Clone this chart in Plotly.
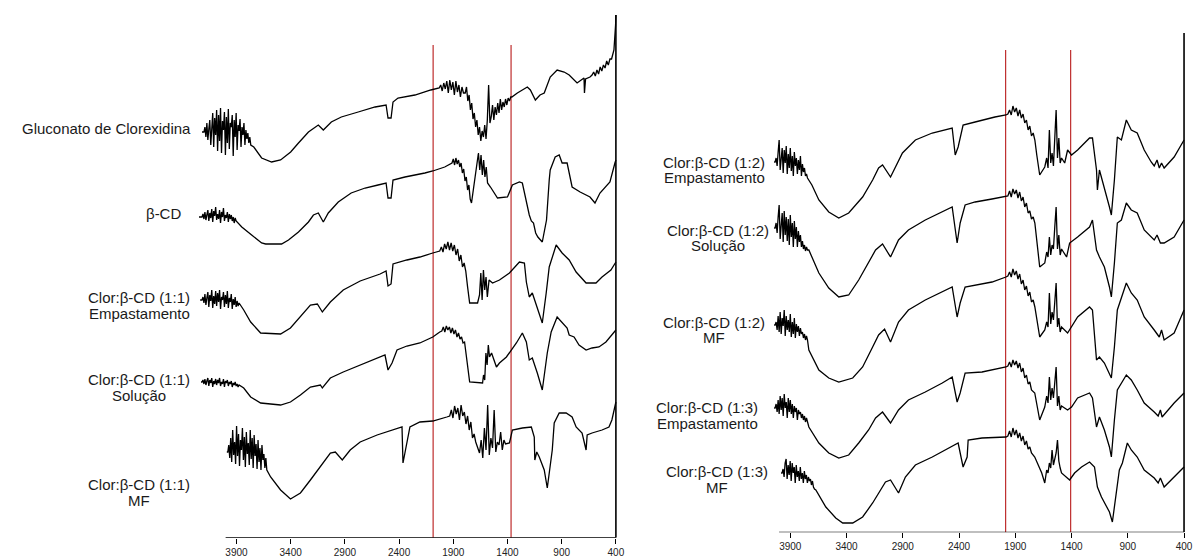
import plotly.graph_objects as go

# ---------------------------------------------------------------------------
# FTIR spectra (wavenumber in cm-1, transmittance in arbitrary units).
# Each spectrum: smooth points (wn, T) plus noisy windows recorded at a fixed
# wavenumber step: (start_wn, step, [T values]).
# ---------------------------------------------------------------------------

# ---- left panel -----------------------------------------------------------
gluconato_pts = [(4218, 33), (3740, 18), (3668, 7), (3576, 3), (3493, 5), (3400, 13), (3328, 22),
                 (3236, 33), (3145, 40), (3099, 35), (3025, 43), (2933, 48), (2777, 53), (2621, 58),
                 (2520, 60), (2502, 47), (2474, 47), (2456, 63), (2410, 67), (2254, 70), (2107, 75),
                 (2043, 77), (1360, 68), (1309, 72), (1217, 78), (1189, 75), (1143, 65), (1100, 70),
                 (1061, 72), (1006, 88), (942, 95), (877, 93), (831, 90), (786, 85), (758, 82),
                 (720, 85), (694, 87), (690, 72), (680, 86), (639, 88), (440, 106), (418, 115),
                 (408, 128), (403, 140), (400, 150)]
gluconato_noise = [(4200, -9, [33, 38, 28, 42, 25, 36, 45, 20, 40, 52, 18, 47, 30, 55, 14, 50, 24, 57, 12, 44,
                               35, 53, 10, 48, 22, 56, 16, 42, 38, 50, 9, 45, 28, 52, 15, 40, 34, 46, 18, 38,
                               30, 42, 20, 35, 26, 32, 22, 28, 20]),
                   (2030, -14, [77, 80, 74, 82, 76, 84, 72, 85, 75, 83, 70, 84, 73, 80, 68, 78, 72]),
                   (1790, -12, [72, 78, 64, 70, 55, 62, 46, 52, 38, 45, 30, 38, 24, 34, 28, 40, 26, 45, 80, 42]),
                   (1550, -12, [48, 60, 45, 58, 50, 62, 52, 66, 55, 63, 58, 66, 60, 67, 64, 68]),
                   (620, -15, [90, 93, 89, 95, 91, 98, 94, 100, 97, 104, 100, 106])]

bcd_pts = [(4246, 28), (3851, 18), (3760, 10), (3668, 2), (3631, 1), (3484, 1), (3420, 5), (3328, 13),
           (3236, 23), (3190, 30), (3145, 32), (3099, 23), (3053, 32), (2961, 43), (2842, 52), (2713, 57),
           (2594, 60), (2520, 62), (2502, 47), (2474, 47), (2456, 65), (2346, 68), (2162, 72), (2089, 74),
           (1979, 78), (1924, 82), (1694, 72), (1557, 58), (1492, 47), (1400, 48), (1355, 60), (1290, 63),
           (1263, 62), (1217, 38), (1199, 30), (1180, 24), (1160, 22), (1140, 12), (1120, 8), (1079, 3),
           (1060, 15), (1040, 25), (1015, 65), (1006, 75), (960, 88), (923, 90), (896, 82), (850, 82),
           (804, 58), (730, 53), (639, 48), (593, 42), (547, 52), (455, 63), (409, 82), (400, 85)]
bcd_noise = [(4218, -9, [28, 31, 26, 33, 25, 30, 35, 24, 32, 27, 36, 23, 34, 29, 38, 25, 31, 26, 35, 22,
                         33, 28, 37, 24, 30, 27, 33, 23, 31, 26, 30, 24, 28, 22, 27, 24]),
             (1912, -12, [82, 86, 80, 87, 81, 85, 78, 82, 72, 76, 64, 68, 55, 60, 46, 42]),
             (1680, -12, [80, 92, 75, 90, 70, 85, 68, 78, 62])]

emp11_pts = [(4235, 35), (3833, 25), (3769, 13), (3677, 2), (3493, 1), (3402, 7), (3310, 18), (3218, 30),
             (3154, 31), (3108, 23), (3034, 33), (2915, 45), (2759, 54), (2575, 61), (2520, 64), (2502, 49),
             (2474, 51), (2456, 71), (2328, 75), (2208, 78), (2089, 82), (1768, 48), (1749, 32), (1676, 32),
             (1570, 55), (1538, 52), (1474, 55), (1382, 62), (1290, 73), (1244, 72), (1226, 53), (1199, 38),
             (1171, 42), (1125, 28), (1079, 12), (1043, 42), (1015, 68), (951, 90), (896, 82), (831, 75),
             (767, 63), (675, 52), (584, 52), (528, 58), (446, 65), (400, 73)]
emp11_noise = [(4218, -9, [35, 38, 32, 41, 30, 37, 43, 28, 40, 34, 45, 27, 39, 31, 44, 29, 42, 33, 45, 26,
                           38, 35, 43, 28, 40, 31, 44, 27, 37, 33, 41, 26, 36, 30, 38, 28, 34, 29, 32]),
               (2025, -15, [84, 88, 83, 91, 86, 93, 85, 92, 84, 90, 80, 86, 74, 80, 68, 72, 64]),
               (1658, -12, [40, 62, 35, 65, 45, 58, 38])]

sol11_pts = [(4227, 23), (3833, 17), (3769, 8), (3677, 2), (3493, 0), (3402, 3), (3310, 10), (3218, 18),
             (3126, 20), (3108, 17), (3034, 27), (2915, 33), (2759, 40), (2603, 47), (2530, 50), (2502, 35),
             (2465, 42), (2419, 55), (2328, 59), (2208, 62), (2089, 68), (2025, 73), (1768, 38), (1749, 23),
             (1630, 22), (1547, 52), (1502, 38), (1474, 42), (1410, 48), (1364, 55), (1318, 62), (1263, 72),
             (1226, 63), (1199, 45), (1171, 47), (1125, 32), (1079, 15), (1033, 52), (997, 73), (942, 88),
             (896, 83), (850, 77), (831, 70), (786, 68), (740, 60), (675, 55), (620, 57), (556, 58),
             (492, 63), (418, 72), (400, 75)]
sol11_noise = [(4218, -9, [23, 25, 21, 26, 20, 24, 27, 19, 25, 22, 27, 18, 24, 21, 26, 20, 25, 22, 27, 19,
                           23, 21, 26, 18, 24, 22, 25, 19, 23, 21, 24, 18, 22, 20, 23, 19, 21, 18, 20]),
               (2006, -14, [74, 78, 73, 79, 75, 78, 72, 77, 71, 75, 68, 72, 66, 68, 62, 63]),
               (1621, -11, [30, 25, 52, 40, 60, 48])]

mf11_pts = [(3989, 48), (3585, 23), (3493, 10), (3402, 1), (3310, 7), (3218, 20), (3126, 33), (3034, 47),
            (2988, 48), (2924, 40), (2851, 50), (2759, 58), (2603, 65), (2419, 72), (2373, 73), (2364, 37),
            (2328, 57), (2300, 73), (2208, 78), (2089, 79), (1960, 83), (1382, 57), (1355, 70), (1263, 72),
            (1180, 73), (1153, 63), (1148, 40), (1130, 48), (1107, 43), (1061, 30), (1033, 12), (987, 50),
            (969, 77), (923, 87), (859, 87), (804, 83), (767, 73), (712, 67), (675, 50), (665, 65),
            (620, 67), (528, 70), (464, 73), (437, 80), (400, 98)]
mf11_noise = [(3980, -9, [48, 55, 42, 62, 38, 70, 45, 58, 36, 74, 44, 66, 34, 60, 50, 72, 40, 63, 33, 68,
                          46, 57, 35, 70, 41, 62, 32, 65, 44, 56, 31, 60, 38, 52, 30, 55, 40, 46, 32, 42, 30]),
              (1933, -15, [84, 90, 82, 94, 86, 92, 80, 95, 84, 88, 76, 84, 70, 78, 62, 66, 58]),
              (1658, -15, [47, 60, 42, 72, 50, 95, 45, 62, 52, 90, 48, 58, 55, 68, 50, 60, 56])]

# ---- right panel ----------------------------------------------------------
emp12_pts = [(4044, 56), (3708, 33), (3646, 18), (3558, 6), (3469, 0), (3381, 5), (3257, 21), (3168, 38),
             (3115, 50), (3080, 53), (3009, 41), (2903, 65), (2788, 78), (2638, 85), (2461, 90), (2434, 63),
             (2408, 71), (2364, 93), (2257, 96), (2081, 101), (1983, 103), (1709, 63), (1683, 43), (1638, 51),
             (1461, 55), (1435, 68), (1400, 63), (1346, 68), (1240, 80), (1214, 80), (1178, 48), (1170, 28),
             (1152, 48), (1108, 31), (1063, 11), (1046, 3), (1019, 38), (993, 81), (957, 78), (913, 98),
             (869, 88), (816, 85), (754, 68), (692, 56), (665, 52), (640, 58), (620, 50), (600, 55),
             (577, 50), (488, 61), (400, 78)]
emp12_noise = [(4035, -9, [56, 60, 52, 66, 78, 48, 62, 70, 45, 68, 55, 72, 44, 64, 50, 70, 47, 62, 42, 66,
                           52, 60, 44, 58, 48, 62, 42, 54, 46, 50, 42, 44, 40]),
               (1966, -15, [104, 108, 103, 112, 106, 110, 102, 108, 100, 104, 95, 98, 88, 92, 82, 85, 78]),
               (1621, -12, [60, 50, 88, 55, 65, 52, 75, 108, 60, 80, 55, 60])]

sol12_pts = [(4044, 69), (3735, 47), (3646, 24), (3558, 9), (3469, 0), (3381, 2), (3292, 17), (3204, 34),
             (3142, 47), (3080, 53), (3009, 40), (2938, 57), (2850, 67), (2700, 77), (2549, 85), (2461, 90),
             (2417, 54), (2390, 74), (2346, 92), (2257, 95), (2107, 98), (1983, 100), (1683, 30), (1638, 34),
             (1444, 40), (1417, 54), (1346, 60), (1240, 70), (1214, 77), (1178, 47), (1152, 40), (1108, 30),
             (1063, 10), (1046, 0), (1019, 34), (993, 74), (957, 77), (913, 94), (869, 87), (816, 84),
             (754, 67), (665, 57), (640, 62), (610, 54), (577, 54), (488, 60), (400, 77)]
sol12_noise = [(4035, -9, [69, 74, 64, 80, 92, 58, 76, 84, 55, 86, 62, 80, 56, 78, 52, 82, 60, 74, 50, 76,
                           58, 70, 50, 66, 55, 62, 50, 56, 48, 52, 46, 50, 47]),
               (1966, -15, [101, 106, 100, 108, 103, 107, 99, 105, 96, 100, 90, 94, 84, 86, 78, 80, 74]),
               (1621, -12, [45, 40, 60, 42, 52, 48, 70, 90, 48, 62, 42, 48])]

mf12_pts = [(4044, 57), (3735, 32), (3646, 12), (3558, 4), (3469, 0), (3345, 4), (3257, 15), (3168, 35),
            (3115, 47), (3062, 53), (3009, 40), (2938, 60), (2850, 72), (2700, 82), (2549, 90), (2461, 95),
            (2417, 65), (2390, 79), (2346, 95), (2257, 97), (2107, 100), (1983, 105), (1683, 45), (1638, 52),
            (1435, 49), (1400, 55), (1346, 65), (1240, 75), (1214, 72), (1178, 22), (1152, 25), (1108, 19),
            (1063, 9), (1046, 4), (1019, 35), (993, 72), (913, 99), (869, 89), (816, 82), (754, 65),
            (665, 52), (620, 45), (600, 52), (577, 42), (488, 49), (400, 72)]
mf12_noise = [(4035, -9, [57, 60, 52, 66, 50, 70, 48, 64, 56, 72, 46, 66, 52, 62, 50, 68, 45, 60, 48, 64,
                          44, 58, 50, 56, 46, 54, 48, 50, 44, 48, 42, 46, 42]),
              (1966, -15, [106, 110, 105, 113, 107, 111, 103, 108, 98, 102, 92, 96, 86, 90, 80, 82, 75]),
              (1621, -12, [60, 55, 89, 58, 70, 62, 80, 99, 55, 64, 50, 55])]

emp13_pts = [(4044, 50), (3735, 31), (3646, 15), (3558, 5), (3469, 0), (3381, 3), (3292, 15), (3204, 28),
             (3142, 40), (3080, 46), (3009, 35), (2938, 48), (2850, 58), (2700, 66), (2549, 75), (2461, 81),
             (2417, 56), (2390, 65), (2346, 85), (2196, 86), (1983, 91), (1727, 65), (1683, 38), (1638, 51),
             (1435, 48), (1400, 51), (1346, 60), (1240, 65), (1214, 60), (1178, 31), (1152, 41), (1108, 28),
             (1063, 11), (1046, 1), (1019, 38), (993, 68), (913, 83), (869, 78), (816, 68), (754, 55),
             (665, 46), (630, 42), (610, 48), (595, 41), (488, 55), (400, 65)]
emp13_noise = [(4035, -9, [50, 54, 46, 58, 44, 62, 48, 60, 42, 64, 50, 56, 40, 60, 46, 58, 44, 54, 40, 52,
                           46, 50, 38, 48, 44, 46, 40, 44, 38, 42, 36, 40, 36]),
               (1966, -15, [92, 96, 91, 98, 93, 97, 90, 95, 86, 90, 80, 83, 74, 76, 68]),
               (1621, -12, [62, 55, 81, 58, 70, 60, 75, 91, 52, 62, 48, 52])]

mf13_pts = [(3982, 50), (3673, 33), (3584, 16), (3496, 5), (3434, 0), (3345, 0), (3257, 6), (3168, 20),
            (3115, 30), (3054, 41), (3009, 43), (2938, 30), (2877, 46), (2788, 58), (2638, 66), (2496, 75),
            (2408, 80), (2364, 56), (2328, 66), (2319, 83), (2196, 85), (1983, 86), (1727, 66), (1665, 50),
            (1638, 40), (1417, 43), (1373, 50), (1311, 56), (1240, 61), (1196, 56), (1170, 36), (1134, 26),
            (1108, 20), (1063, 11), (1037, 1), (1001, 33), (975, 53), (948, 60), (904, 80), (869, 73),
            (816, 66), (754, 53), (665, 45), (630, 40), (610, 45), (577, 36), (488, 46), (400, 56)]
mf13_noise = [(3973, -9, [50, 54, 46, 60, 64, 44, 58, 48, 62, 42, 60, 50, 56, 40, 58, 46, 52, 42, 56, 44,
                          50, 40, 52, 44, 48, 40, 46, 42, 44, 38, 42, 36, 34]),
              (1966, -15, [87, 92, 86, 95, 88, 93, 85, 90, 82, 87, 78, 82, 74, 76, 70]),
              (1621, -12, [53, 50, 60, 55, 73, 58, 66, 70, 83, 62, 55, 50])]

# vertical offsets used to stack the spectra (same units as T)
left_offsets = [395, 315, 225, 155, 60]
right_offsets = [342, 263, 178, 102, 37]

# reference wavenumbers marked in red (cm-1)
left_marks = [2086, 1367]
right_marks = [1986, 1408]

tick_vals = [3900, 3400, 2900, 2400, 1900, 1400, 900, 400]
tick_text = ["3900", "3400", "2900", "2400", "1900", "1400", "900", "400"]


def build(points, bursts):
    pairs = list(points)
    for start, step, vals in bursts:
        pairs += [(start + i * step, v) for i, v in enumerate(vals)]
    pairs.sort(key=lambda p: -p[0])
    return [p[0] for p in pairs], [p[1] for p in pairs]


left_spectra = [(gluconato_pts, gluconato_noise), (bcd_pts, bcd_noise), (emp11_pts, emp11_noise),
                (sol11_pts, sol11_noise), (mf11_pts, mf11_noise)]
right_spectra = [(emp12_pts, emp12_noise), (sol12_pts, sol12_noise), (mf12_pts, mf12_noise),
                 (emp13_pts, emp13_noise), (mf13_pts, mf13_noise)]

W, H = 1197, 560
fig = go.Figure()

for (pts, noise), off in zip(left_spectra, left_offsets):
    x, t = build(pts, noise)
    fig.add_trace(go.Scatter(x=x, y=[v + off for v in t], mode="lines", xaxis="x", yaxis="y",
                             line=dict(color="black", width=1.3), hoverinfo="skip", showlegend=False))
for (pts, noise), off in zip(right_spectra, right_offsets):
    x, t = build(pts, noise)
    fig.add_trace(go.Scatter(x=x, y=[v + off for v in t], mode="lines", xaxis="x2", yaxis="y2",
                             line=dict(color="black", width=1.3), hoverinfo="skip", showlegend=False))

# panel geometry
left_ybot, right_ybot = 22.3, 27.7
axis_common = dict(tickvals=tick_vals, ticktext=tick_text, ticks="outside", ticklen=5,
                   tickcolor="black", tickwidth=1, showgrid=False, zeroline=False, showline=False,
                   tickfont=dict(family="Liberation Sans, Arial, sans-serif", size=10, color="#222"))
fig.update_layout(
    width=W, height=H, autosize=False,
    margin=dict(l=0, r=0, t=0, b=0),
    paper_bgcolor="white", plot_bgcolor="white",
    xaxis=dict(domain=[198 / W, 622 / W], range=[4264, 372.5], anchor="y", **axis_common),
    yaxis=dict(domain=[left_ybot / H, 1], range=[left_ybot, H], visible=False),
    xaxis2=dict(domain=[772 / W, 1193 / W], range=[4097, 373.5], anchor="y2", **axis_common),
    yaxis2=dict(domain=[right_ybot / H, 1], range=[right_ybot, H], visible=False),
)

shapes = []
for xr, yr, marks, ybot, ytop_red, ytop_frame in [("x", "y", left_marks, left_ybot, 515, 545),
                                                    ("x2", "y2", right_marks, right_ybot, 510, 527)]:
    # baseline of the wavenumber axis
    shapes.append(dict(type="line", xref=xr, yref=yr, x0=4000, x1=400, y0=ybot, y1=ybot,
                       line=dict(color="black", width=1.3)))
    # right-hand edge at 400 cm-1
    shapes.append(dict(type="line", xref=xr, yref=yr, x0=400, x1=400, y0=ybot, y1=ytop_frame,
                       line=dict(color="black", width=1.6)))
    for m in marks:
        shapes.append(dict(type="line", xref=xr, yref=yr, x0=m, x1=m, y0=ybot, y1=ytop_red,
                           line=dict(color="rgb(190,45,45)", width=1.2), layer="below"))
fig.update_layout(shapes=shapes)

font = dict(family="Liberation Sans, Arial, sans-serif", size=15, color="#1a1a1a")


def label(text, px, py, anchor="center"):
    fig.add_annotation(text=text, x=px / W, y=1 - py / H, xref="paper", yref="paper",
                       xanchor=anchor, yanchor="middle", showarrow=False, font=font)


label("Gluconato de Clorexidina", 194, 129, "right")
label("β-CD", 184, 213, "right")
for first, second, cx, y1, y2 in [
    ("Clor:β-CD (1:1)", "Empastamento", 140, 297, 313),
    ("Clor:β-CD (1:1)", "Solução", 140, 379, 395),
    ("Clor:β-CD (1:1)", "MF", 140, 484, 500),
    ("Clor:β-CD (1:2)", "Empastamento", 718, 162, 177),
    ("Clor:β-CD (1:2)", "Solução", 722, 230, 245),
    ("Clor:β-CD (1:2)", "MF", 718, 322, 337),
    ("Clor:β-CD (1:3)", "Empastamento", 711, 407, 423),
    ("Clor:β-CD (1:3)", "MF", 721, 471, 487),
]:
    label(first, cx, y1)
    label(second, cx, y2)

fig.write_html("out.html", config={"displayModeBar": False})
